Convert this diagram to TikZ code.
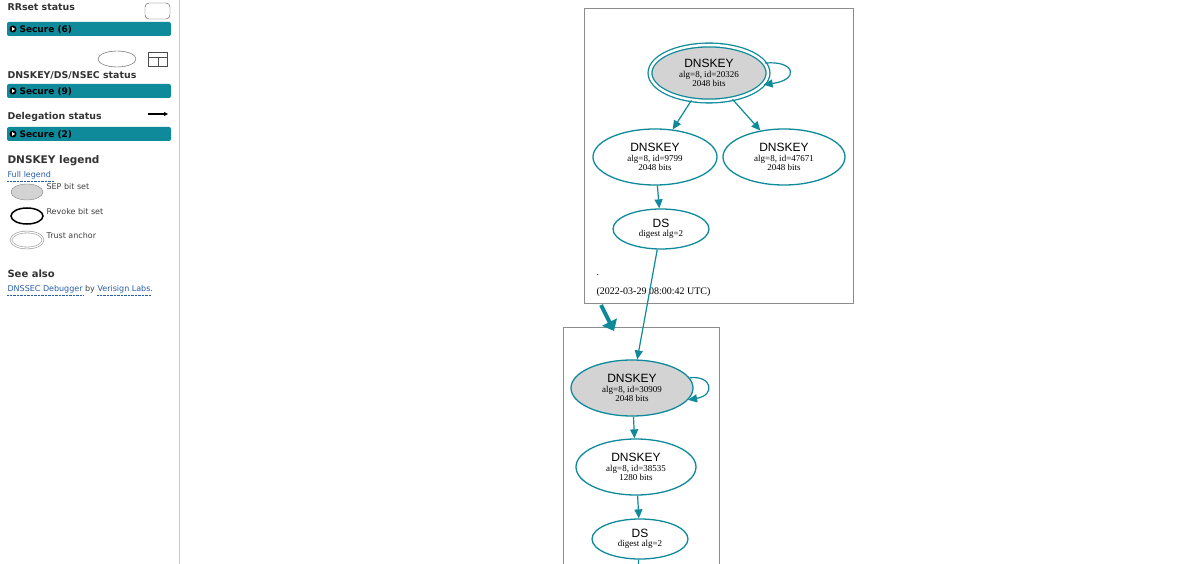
\documentclass[tikz,border=0pt]{standalone}
\usepackage{fontspec}
\setmainfont{Liberation Serif}
\newfontfamily\vsans{DejaVu Sans}
\newfontfamily\arial{Liberation Sans}
\usetikzlibrary{shapes.geometric,arrows.meta}
\definecolor{teal1}{HTML}{0E8A9B}
\definecolor{linkb}{HTML}{2A5DA8}
\definecolor{kfill}{HTML}{D3D3D3}
\newcommand{\kt}{\arial\fontsize{12}{13}\selectfont}
\begin{document}
\begin{tikzpicture}[x=1pt,y=-1pt,
  key/.style={ellipse,draw=teal1,line width=1.3pt,minimum width=124pt,minimum height=56pt,inner sep=0pt,align=center,font=\fontsize{9}{9.5}\selectfont},
  ds/.style={ellipse,draw=teal1,line width=1.3pt,minimum width=96pt,minimum height=40pt,inner sep=0pt,align=center,font=\fontsize{9}{9.5}\selectfont},
  arr/.style={draw=teal1,line width=1.2pt,-{Triangle[length=9pt,width=8pt]}},
  box/.style={draw=gray!90,line width=0.8pt},
  bar/.style={fill=teal1,rounded corners=2pt},
  bartxt/.style={anchor=west,font=\vsans\bfseries\fontsize{9}{10}\selectfont,text=black},
  lbl/.style={anchor=west,font=\vsans\bfseries\fontsize{9.4}{11}\selectfont,text=black!80},
  sm/.style={anchor=west,font=\vsans\fontsize{8}{9}\selectfont,text=black!75}]
\useasboundingbox (0,0) rectangle (1200,564);
\fill[white] (0,0) rectangle (1200,564);
% sidebar
\draw[gray!40,line width=0.8pt] (179,0) -- (179,564);
\node[lbl] (t1) at (4,7) {RRset status};
\draw[black!70,rounded corners=4pt] (145,3) rectangle (170,19);
\fill[bar] (7,22) rectangle (171,36);
\node[bartxt] (b1) at (16,29.5) {Secure (6)};
\fill[black] (13,29) circle (3.5pt); \fill[white] (12,27) -- (15,29) -- (12,31) -- cycle;
\draw[black!70] (117,59) ellipse (19 and 8);
\draw[black!70] (148,52) rectangle (167,66); \draw[black!70] (148,57) -- (167,57) (158,57) -- (158,66);
\node[lbl] (t2) at (4,75) {DNSKEY/DS/NSEC status};
\fill[bar] (7,84) rectangle (171,98);
\node[bartxt] (b2) at (16,91.5) {Secure (9)};
\fill[black] (13,91) circle (3.5pt); \fill[white] (12,89) -- (15,91) -- (12,93) -- cycle;
\node[lbl] (t3) at (4,117) {Delegation status};
\draw[black,line width=1.5pt,-{Triangle[length=4pt,width=4pt]}] (148,114) -- (168,114);
\fill[bar] (7,127) rectangle (171,141);
\node[bartxt] (b3) at (16,134.5) {Secure (2)};
\fill[black] (13,134) circle (3.5pt); \fill[white] (12,132) -- (15,134) -- (12,136) -- cycle;
\node[lbl,font=\vsans\bfseries\fontsize{10.5}{12}\selectfont] (t4) at (4,161) {DNSKEY legend};
\node[sm,text=linkb] (fl) at (4,175) {Full legend};
\draw[linkb,densely dotted] (7,181) -- (54,181);
\draw[gray,fill=kfill] (27,192) ellipse (16 and 8);
\node[sm] (s1) at (43,187) {SEP bit set};
\draw[black,line width=1.5pt] (27,216) ellipse (16 and 8);
\node[sm] (s2) at (43,212) {Revoke bit set};
\draw[gray!80,line width=0.6pt,double=white,double distance=1.2pt] (27,240) ellipse (16 and 8);
\node[sm] (s3) at (43,236) {Trust anchor};
\node[lbl,font=\vsans\bfseries\fontsize{10}{11}\selectfont] (t5) at (4,274) {See also};
\node[sm] (sa) at (4,289) {\textcolor{linkb}{DNSSEC Debugger} by \textcolor{linkb}{Verisign Labs}.};
\draw[linkb,densely dotted] (7,295) -- (83,295) (97,295) -- (151,295);
% boxes
\draw[box] (584,8) rectangle (853,303);
\draw[box] (563,327) rectangle (719,570);
\node[anchor=west,font=\fontsize{10}{11}\selectfont] (dot) at (593,275) {.};
\node[anchor=west,font=\fontsize{10}{11}\selectfont] (date) at (593,292) {(2022-03-29 08:00:42 UTC)};
% keys
\node[key,fill=kfill,minimum width=118pt,minimum height=56pt,double=white,double distance=2.5pt] (k1) at (709,73) {{\kt DNSKEY}\\alg=8, id=20326\\2048 bits};
\node[key] (k2) at (655,157) {{\kt DNSKEY}\\alg=8, id=9799\\2048 bits};
\node[key,minimum width=122pt] (k3) at (784,157) {{\kt DNSKEY}\\alg=8, id=47671\\2048 bits};
\node[ds] (d1) at (661,229) {{\kt DS}\\digest alg=2};
\node[key,fill=kfill,minimum width=122pt] (k4) at (632,388) {{\kt DNSKEY}\\alg=8, id=30909\\2048 bits};
\node[key,minimum width=120pt] (k5) at (636,467) {{\kt DNSKEY}\\alg=8, id=38535\\1280 bits};
\node[ds] (d2) at (640,539) {{\kt DS}\\digest alg=2};
\coordinate (bot) at (638,570);
% edges
\draw[arr] (k1) -- (k2);
\draw[arr] (k1) -- (k3);
\draw[arr] (k2) -- (d1);
\draw[arr] (d1) -- (k4);
\draw[arr] (k4) -- (k5);
\draw[arr] (k5) -- (d2);
\draw[teal1,line width=1.2pt] (d2) -- (bot);
\draw[arr] (k1.10) .. controls (795,60) and (800,80) .. (k1.-12);
\draw[arr] (k4.10) .. controls (712,375) and (716,395) .. (k4.-12);
\coordinate (da) at (601,305); \coordinate (db) at (614,331);
\draw[draw=teal1,line width=4pt,-{Triangle[length=10pt,width=16pt]}] (da) -- (db);
\end{tikzpicture}
\end{document}
